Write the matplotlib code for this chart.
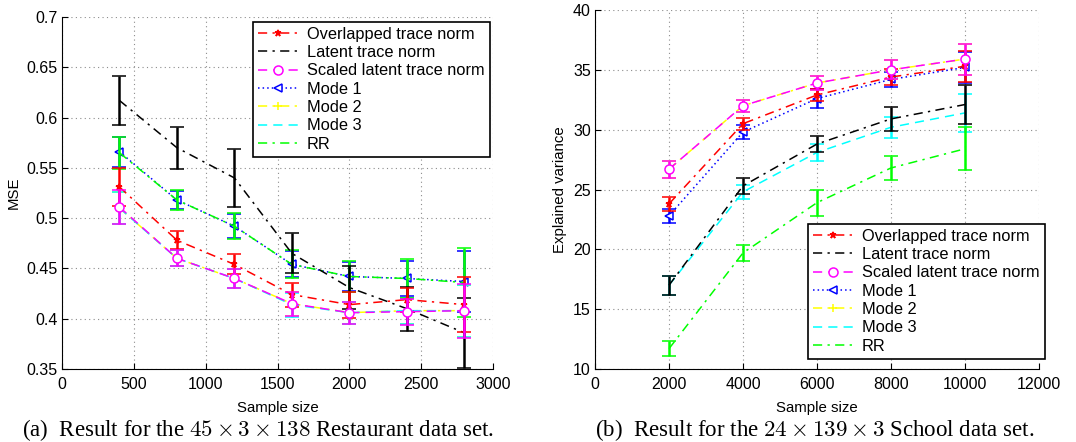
import numpy as np
import matplotlib
matplotlib.use('Agg')
import matplotlib.pyplot as plt
from matplotlib.ticker import FuncFormatter, MultipleLocator

plt.rcParams['font.family'] = ['Liberation Sans', 'DejaVu Sans']
plt.rcParams['mathtext.fontset'] = 'cm'

# --- Restaurant data (MSE) ---
rest_sizes = [400, 800, 1200, 1600, 2000, 2400, 2800]
rest_overlapped = [0.531, 0.478, 0.454, 0.424, 0.414, 0.419, 0.414]
rest_overlapped_err = [0.019, 0.009, 0.010, 0.012, 0.013, 0.012, 0.027]
rest_latent = [0.617, 0.570, 0.540, 0.465, 0.431, 0.410, 0.386]
rest_latent_err = [0.024, 0.021, 0.029, 0.020, 0.021, 0.022, 0.035]
rest_scaled = [0.511, 0.460, 0.440, 0.415, 0.406, 0.407, 0.408]
rest_scaled_err = [0.017, 0.008, 0.009, 0.012, 0.011, 0.013, 0.027]
rest_mode1 = [0.566, 0.518, 0.492, 0.454, 0.442, 0.440, 0.437]
rest_mode1_err = [0.015, 0.009, 0.012, 0.013, 0.014, 0.017, 0.030]
rest_mode2 = [0.510, 0.460, 0.440, 0.415, 0.406, 0.408, 0.408]
rest_mode2_err = [0.016, 0.008, 0.009, 0.012, 0.011, 0.013, 0.026]
rest_mode3 = [0.510, 0.460, 0.440, 0.414, 0.406, 0.408, 0.408]
rest_mode3_err = [0.016, 0.008, 0.009, 0.012, 0.011, 0.013, 0.026]
rest_rr = [0.565, 0.518, 0.492, 0.454, 0.442, 0.440, 0.436]
rest_rr_err = [0.016, 0.010, 0.013, 0.014, 0.015, 0.019, 0.034]

# --- School data (explained variance) ---
school_sizes = [2000, 4000, 6000, 8000, 10000]
school_overlapped = [23.8, 30.5, 32.9, 34.4, 35.3]
school_overlapped_err = [0.6, 0.5, 0.5, 0.7, 1.3]
school_latent = [17.0, 25.3, 28.8, 30.9, 32.1]
school_latent_err = [0.8, 0.7, 0.7, 1.0, 1.6]
school_scaled = [26.7, 32.0, 33.9, 35.0, 35.9]
school_scaled_err = [0.7, 0.5, 0.6, 0.8, 1.3]
school_mode1 = [22.8, 29.8, 32.6, 34.2, 35.2]
school_mode1_err = [0.6, 0.6, 0.8, 0.6, 1.3]
school_mode2 = [26.7, 32.0, 33.9, 35.0, 35.9]
school_mode2_err = [0.7, 0.5, 0.6, 0.8, 1.3]
school_mode3 = [17.0, 24.8, 28.1, 30.2, 31.4]
school_mode3_err = [0.8, 0.6, 0.7, 0.9, 1.6]
school_rr = [11.7, 19.7, 23.9, 26.8, 28.4]
school_rr_err = [0.6, 0.7, 1.1, 1.0, 1.8]

labels = ['Overlapped trace norm', 'Latent trace norm', 'Scaled latent trace norm',
          'Mode 1', 'Mode 2', 'Mode 3', 'RR']

DASHDOT = (0, (6, 3.5, 1.5, 3.5))
DASHED = (0, (6, 4))
DOTTED = (0, (1, 2))

# color, linestyle, marker, open marker
styles = {
    'Overlapped trace norm': ('#ff0000', DASHDOT, '*', False),
    'Latent trace norm': ('#000000', DASHDOT, None, False),
    'Scaled latent trace norm': ('#ff00ff', DASHED, 'o', True),
    'Mode 1': ('#0000ff', DOTTED, '<', True),
    'Mode 2': ('#ffff00', DASHDOT, '+', False),
    'Mode 3': ('#00ffff', DASHED, None, False),
    'RR': ('#00ff00', DASHDOT, None, False),
}

# drawing order (last on top)
draw_order = ['Mode 1', 'Mode 2', 'Mode 3', 'RR', 'Latent trace norm',
              'Overlapped trace norm', 'Scaled latent trace norm']


def draw_panel(ax, x, series, ylabel, xlim, ylim, xstep, ystep):
    handles = {}
    for z, name in enumerate(draw_order):
        y, err = series[name]
        color, ls, marker, hollow = styles[name]
        msize = {'o': 6.5, '*': 5, '<': 6, '+': 6}.get(marker, 6)
        cont = ax.errorbar(x, y, yerr=err, color=color, linestyle=ls, linewidth=1.1,
                           marker=marker, markersize=msize,
                           markerfacecolor='white' if hollow else color,
                           markeredgecolor=color, markeredgewidth=1.1,
                           ecolor=color, elinewidth=1.8, capsize=5, capthick=1.8,
                           zorder=3 + z)
        handles[name] = cont[0]
    ax.set_xlim(*xlim)
    ax.set_ylim(*ylim)
    ax.xaxis.set_major_locator(MultipleLocator(xstep))
    ax.yaxis.set_major_locator(MultipleLocator(ystep))
    ax.yaxis.set_major_formatter(FuncFormatter(lambda v, p: f'{v:g}'))
    ax.xaxis.set_major_formatter(FuncFormatter(lambda v, p: f'{v:g}'))
    ax.grid(True, color='0.55', linestyle=(0, (1, 3)), linewidth=0.8)
    ax.set_axisbelow(True)
    ax.spines['top'].set_visible(False)
    ax.spines['right'].set_visible(False)
    ax.tick_params(direction='in', length=4, labelsize=11.5)
    ax.tick_params(axis='x', pad=6)
    ax.tick_params(axis='y', pad=3)
    ax.set_xlabel('Sample size', fontsize=10.8, labelpad=6)
    ax.set_ylabel(ylabel, fontsize=10.8, labelpad=4)
    return [handles[n] for n in labels]


def main():
    fig = plt.figure(figsize=(10.76, 4.42), dpi=100)
    ax1 = fig.add_axes([62 / 1076, 1 - 369 / 442, 431 / 1076, 352 / 442])
    ax2 = fig.add_axes([595 / 1076, 1 - 369 / 442, 444 / 1076, 359 / 442])

    rest = {
        'Overlapped trace norm': (rest_overlapped, rest_overlapped_err),
        'Latent trace norm': (rest_latent, rest_latent_err),
        'Scaled latent trace norm': (rest_scaled, rest_scaled_err),
        'Mode 1': (rest_mode1, rest_mode1_err),
        'Mode 2': (rest_mode2, rest_mode2_err),
        'Mode 3': (rest_mode3, rest_mode3_err),
        'RR': (rest_rr, rest_rr_err),
    }
    school = {
        'Overlapped trace norm': (school_overlapped, school_overlapped_err),
        'Latent trace norm': (school_latent, school_latent_err),
        'Scaled latent trace norm': (school_scaled, school_scaled_err),
        'Mode 1': (school_mode1, school_mode1_err),
        'Mode 2': (school_mode2, school_mode2_err),
        'Mode 3': (school_mode3, school_mode3_err),
        'RR': (school_rr, school_rr_err),
    }

    h1 = draw_panel(ax1, rest_sizes, rest, 'MSE', (0, 3000), (0.35, 0.7), 500, 0.05)
    h2 = draw_panel(ax2, school_sizes, school, 'Explained variance', (0, 12000), (10, 40), 2000, 5)

    leg_kw = dict(fontsize=11.8, handlelength=2.5, handletextpad=0.5, labelspacing=0.2,
                  borderpad=0.3, borderaxespad=0, fancybox=False, framealpha=1,
                  edgecolor='black', loc='upper left')
    leg1 = fig.legend(h1, labels, bbox_to_anchor=(253 / 1076, 1 - 22 / 442), **leg_kw)
    leg2 = fig.legend(h2, labels, bbox_to_anchor=(808 / 1076, 1 - 224 / 442), **leg_kw)
    for leg in (leg1, leg2):
        leg.get_frame().set_linewidth(1.2)

    cap_kw = dict(ha='center', va='center', fontsize=16.5, family=['Liberation Serif', 'DejaVu Serif'])
    fig.text(258 / 1076, 1 - 430 / 442,
             r'(a)  Result for the $45\times3\times138$ Restaurant data set.', **cap_kw)
    fig.text(815 / 1076, 1 - 430 / 442,
             r'(b)  Result for the $24\times139\times3$ School data set.', **cap_kw)

    fig.savefig('out.png', dpi=100)


if __name__ == "__main__":
    main()
